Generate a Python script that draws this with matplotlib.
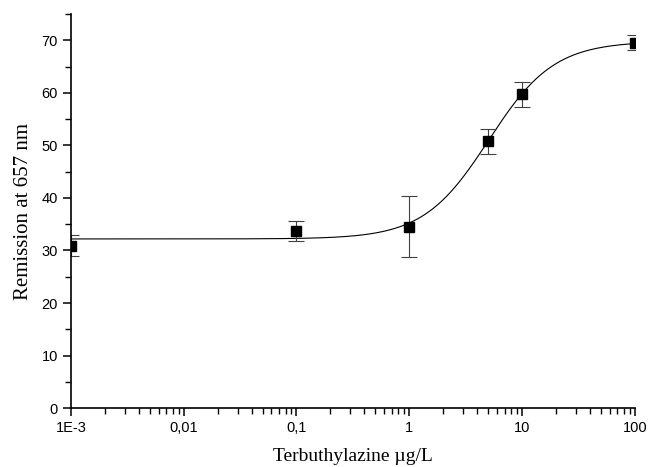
import numpy as np
import matplotlib
matplotlib.use('Agg')
import matplotlib.pyplot as plt
from matplotlib.ticker import FixedLocator, LogLocator, MultipleLocator, NullFormatter

# measured points (Terbuthylazine concentration vs remission)
conc = [1e-3, 0.1, 1, 5, 10, 100]
remission = [30.9, 33.7, 34.5, 50.8, 59.7, 69.5]
err_low = [2.0, 1.9, 5.7, 2.5, 2.3, 1.4]
err_high = [2.0, 2.0, 5.8, 2.4, 2.3, 1.6]

# logistic fit
fit_bottom = 32.2
fit_top = 69.8
fit_x0 = 5.07
fit_p = 1.5

xtick_vals = [1e-3, 1e-2, 1e-1, 1, 10, 100]
xtick_labels = ['1E-3', '0,01', '0,1', '1', '10', '100']

fig = plt.figure(figsize=(6.51, 4.67), dpi=100)
ax = fig.add_axes([0.109, 0.126, 0.866, 0.844])

xs = np.logspace(-3, 2, 400)
ys = fit_top + (fit_bottom - fit_top) / (1 + (xs / fit_x0) ** fit_p)
ax.plot(xs, ys, color='black', lw=0.8)

ax.errorbar(conc, remission, yerr=[err_low, err_high], fmt='none',
            ecolor='0.25', elinewidth=0.8, capsize=6, capthick=0.8)
ax.plot(conc, remission, 's', color='black', markersize=6.5, zorder=5)

ax.set_xscale('log')
ax.set_xlim(1e-3, 100)
ax.set_ylim(0, 75)
ax.xaxis.set_major_locator(FixedLocator(xtick_vals))
ax.set_xticklabels(xtick_labels)
ax.xaxis.set_minor_locator(LogLocator(base=10, subs=np.arange(2, 10)))
ax.xaxis.set_minor_formatter(NullFormatter())
ax.yaxis.set_major_locator(MultipleLocator(10))
ax.yaxis.set_minor_locator(MultipleLocator(5))

for side in ['top', 'right']:
    ax.spines[side].set_visible(False)
for side in ['left', 'bottom']:
    ax.spines[side].set_linewidth(1.2)

ax.tick_params(which='major', direction='out', length=6, width=1.1,
               labelsize=10.5, labelfontfamily='Liberation Sans')
ax.tick_params(which='minor', direction='out', length=4, width=1.0)

ax.set_xlabel('Terbuthylazine µg/L', fontfamily='Liberation Serif', fontsize=14, labelpad=9)
ax.set_ylabel('Remission at 657 nm', fontfamily='Liberation Serif', fontsize=15, labelpad=6)

fig.savefig('out.png', dpi=100)
